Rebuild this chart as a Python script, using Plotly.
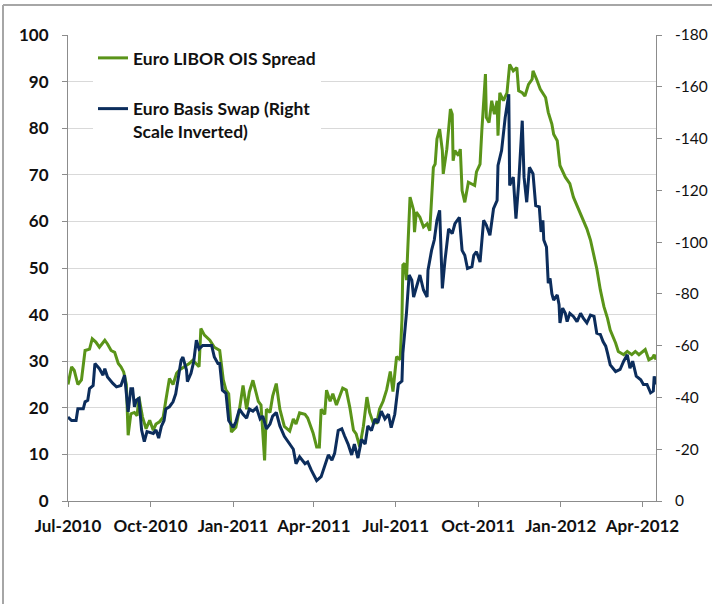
import plotly.graph_objects as go

# ---------------- data ----------------
libor_dates = [
    "2010-07-01","2010-07-05","2010-07-08","2010-07-12","2010-07-16","2010-07-20","2010-07-25","2010-07-28",
    "2010-08-01","2010-08-05","2010-08-11","2010-08-14","2010-08-18","2010-08-22","2010-08-26","2010-08-29",
    "2010-09-01","2010-09-04","2010-09-06","2010-09-09","2010-09-13","2010-09-16","2010-09-18","2010-09-22",
    "2010-09-26","2010-09-30","2010-10-04","2010-10-07","2010-10-11","2010-10-15","2010-10-18","2010-10-22",
    "2010-10-26","2010-10-30","2010-11-02","2010-11-08","2010-11-13","2010-11-17","2010-11-21","2010-11-24",
    "2010-11-26","2010-11-30","2010-12-06","2010-12-11","2010-12-17","2010-12-21","2010-12-24","2010-12-27",
    "2010-12-30","2011-01-04","2011-01-08","2011-01-12","2011-01-16","2011-01-19","2011-01-23","2011-01-29",
    "2011-02-01","2011-02-05","2011-02-07","2011-02-11","2011-02-14","2011-02-18","2011-02-22","2011-02-27",
    "2011-03-05","2011-03-09","2011-03-12","2011-03-16","2011-03-22","2011-03-25","2011-03-31","2011-04-04",
    "2011-04-07","2011-04-09","2011-04-13","2011-04-15","2011-04-19","2011-04-22","2011-04-26","2011-04-30",
    "2011-05-03","2011-05-07","2011-05-11","2011-05-15","2011-05-18","2011-05-22","2011-05-26","2011-05-30",
    "2011-06-02","2011-06-06","2011-06-10","2011-06-13","2011-06-17","2011-06-21","2011-06-25","2011-06-28",
    "2011-07-02","2011-07-06","2011-07-08","2011-07-09","2011-07-11","2011-07-13","2011-07-17","2011-07-21",
    "2011-07-22","2011-07-24","2011-07-28","2011-08-01","2011-08-05","2011-08-08","2011-08-10","2011-08-12",
    "2011-08-14","2011-08-16","2011-08-19","2011-08-22","2011-08-23","2011-08-27","2011-08-31","2011-09-02",
    "2011-09-03","2011-09-05","2011-09-09","2011-09-11","2011-09-13","2011-09-16","2011-09-20","2011-09-24",
    "2011-09-27","2011-09-29","2011-10-03","2011-10-05","2011-10-09","2011-10-10","2011-10-13","2011-10-16",
    "2011-10-19","2011-10-22","2011-10-23","2011-10-25","2011-10-29","2011-11-02","2011-11-05","2011-11-09",
    "2011-11-13","2011-11-15","2011-11-19","2011-11-22","2011-11-26","2011-11-30","2011-12-01","2011-12-05",
    "2011-12-09","2011-12-15","2011-12-18","2011-12-22","2011-12-24","2011-12-28","2011-12-31","2012-01-06",
    "2012-01-11","2012-01-15","2012-01-19","2012-01-25","2012-01-30","2012-02-03","2012-02-07","2012-02-10",
    "2012-02-14","2012-02-18","2012-02-22","2012-02-25","2012-03-02","2012-03-05","2012-03-11","2012-03-15",
    "2012-03-20","2012-03-24","2012-03-28","2012-04-01","2012-04-04","2012-04-08","2012-04-12","2012-04-14",
    "2012-04-16",
]
libor_ois = [
    25.0, 28.8, 28.0, 25.0, 26.0, 32.3, 32.6, 34.8,
    34.1, 33.0, 34.5, 33.7, 32.3, 31.9, 29.5, 28.8,
    27.7, 25.0, 14.1, 18.7, 19.0, 18.3, 22.3, 18.0,
    15.5, 17.3, 15.2, 16.5, 17.0, 18.0, 21.6, 26.3,
    25.0, 27.4, 28.1, 28.8, 29.5, 30.2, 29.5, 28.8,
    37.0, 35.6, 34.5, 33.0, 32.3, 26.0, 23.8, 23.0,
    14.8, 15.8, 19.7, 24.8, 19.7, 23.4, 25.9, 21.4,
    20.6, 8.7, 19.7, 19.0, 22.5, 25.2, 19.7, 16.0,
    15.0, 17.6, 16.5, 18.9, 18.6, 17.8, 14.6, 11.6,
    11.6, 19.7, 18.6, 23.8, 21.4, 23.0, 20.6, 22.5,
    24.2, 23.8, 20.0, 15.2, 14.4, 11.6, 16.0, 22.3,
    19.0, 16.8, 16.8, 19.7, 21.4, 23.9, 27.8, 23.5,
    31.0, 30.3, 38.9, 50.6, 51.0, 47.4, 65.2, 62.4,
    57.7, 62.0, 60.9, 58.8, 59.5, 58.0, 65.9, 71.6,
    72.3, 77.7, 79.8, 75.2, 70.2, 75.5, 84.1, 83.0,
    73.0, 75.2, 74.1, 75.5, 66.6, 64.1, 68.4, 68.0,
    67.7, 70.6, 72.3, 79.5, 91.6, 82.3, 81.2, 85.9,
    83.0, 85.9, 78.4, 87.6, 85.9, 87.6, 93.7, 92.3,
    93.0, 88.0, 87.6, 86.9, 89.4, 90.5, 92.3, 90.5,
    88.4, 86.6, 83.4, 80.9, 78.7, 77.3, 72.0, 69.5,
    68.1, 65.2, 63.4, 60.9, 58.4, 56.0, 52.7, 49.9,
    45.3, 41.7, 39.2, 36.7, 33.9, 32.1, 31.4, 32.1,
    31.4, 32.1, 31.4, 32.1, 32.5, 30.3, 30.7, 31.4,
    30.3,
]

swap_dates = [
    "2010-07-01","2010-07-05","2010-07-10","2010-07-12","2010-07-18","2010-07-20","2010-07-23","2010-07-25",
    "2010-07-29","2010-07-31","2010-08-05","2010-08-09","2010-08-11","2010-08-14","2010-08-20","2010-08-24",
    "2010-08-29","2010-09-02","2010-09-06","2010-09-09","2010-09-11","2010-09-13","2010-09-15","2010-09-18",
    "2010-09-21","2010-09-24","2010-09-27","2010-10-04","2010-10-07","2010-10-10","2010-10-13","2010-10-16",
    "2010-10-18","2010-10-22","2010-10-26","2010-10-29","2010-11-01","2010-11-04","2010-11-06","2010-11-10",
    "2010-11-11","2010-11-15","2010-11-18","2010-11-21","2010-11-24","2010-11-28","2010-12-08","2010-12-11",
    "2010-12-15","2010-12-17","2010-12-20","2010-12-24","2010-12-27","2011-01-01","2011-01-04","2011-01-08",
    "2011-01-12","2011-01-16","2011-01-19","2011-01-23","2011-01-27","2011-01-31","2011-02-03","2011-02-07",
    "2011-02-11","2011-02-14","2011-02-18","2011-02-22","2011-02-27","2011-03-05","2011-03-09","2011-03-12",
    "2011-03-16","2011-03-22","2011-03-25","2011-03-29","2011-04-04","2011-04-09","2011-04-13","2011-04-17",
    "2011-04-21","2011-04-24","2011-04-28","2011-05-02","2011-05-05","2011-05-09","2011-05-13","2011-05-16",
    "2011-05-20","2011-05-24","2011-05-28","2011-05-31","2011-06-04","2011-06-08","2011-06-11","2011-06-15",
    "2011-06-19","2011-06-23","2011-06-26","2011-06-30","2011-07-04","2011-07-08","2011-07-09","2011-07-13",
    "2011-07-16","2011-07-19","2011-07-21","2011-07-24","2011-07-28","2011-08-01","2011-08-05","2011-08-06",
    "2011-08-10","2011-08-13","2011-08-16","2011-08-19","2011-08-22","2011-08-25","2011-08-29","2011-09-02",
    "2011-09-05","2011-09-10","2011-09-13","2011-09-16","2011-09-19","2011-09-24","2011-09-26","2011-09-29",
    "2011-10-03","2011-10-07","2011-10-10","2011-10-14","2011-10-18","2011-10-22","2011-10-23","2011-10-27",
    "2011-10-31","2011-11-04","2011-11-05","2011-11-09","2011-11-12","2011-11-15","2011-11-19","2011-11-21",
    "2011-11-24","2011-11-27","2011-12-01","2011-12-04","2011-12-08","2011-12-10","2011-12-12","2011-12-13",
    "2011-12-16","2011-12-18","2011-12-20","2011-12-22","2011-12-24","2011-12-28","2011-12-30","2011-12-31",
    "2012-01-03","2012-01-06","2012-01-08","2012-01-11","2012-01-15","2012-01-19","2012-01-23","2012-01-26",
    "2012-01-30","2012-02-03","2012-02-07","2012-02-10","2012-02-14","2012-02-17","2012-02-20","2012-02-22",
    "2012-02-25","2012-03-02","2012-03-07","2012-03-11","2012-03-15","2012-03-18","2012-03-21","2012-03-25",
    "2012-03-30","2012-04-02","2012-04-06","2012-04-10","2012-04-13","2012-04-14","2012-04-16",
]
basis_swap = [
    -32.4, -31.1, -31.1, -35.6, -35.6, -38.3, -38.9, -43.4,
    -44.6, -53.1, -51.1, -48.6, -51.1, -47.9, -45.4, -44.1,
    -44.6, -48.6, -34.4, -43.4, -43.4, -36.4, -38.9, -39.6,
    -27.4, -22.9, -26.8, -26.1, -27.4, -24.3, -28.8, -31.1,
    -35.6, -36.4, -38.3, -41.4, -47.9, -54.4, -55.6, -50.6,
    -46.1, -49.3, -53.8, -62.1, -58.7, -60.1, -60.1, -55.6,
    -53.1, -53.1, -42.8, -41.6, -31.1, -28.4, -30.6, -35.5,
    -33.5, -32.0, -35.5, -34.7, -36.0, -31.7, -32.8, -27.9,
    -29.7, -32.8, -34.2, -29.0, -25.0, -22.0, -20.0, -14.4,
    -17.1, -14.4, -15.1, -11.9, -7.9, -9.4, -13.9, -17.8,
    -15.8, -18.4, -27.2, -27.9, -25.2, -22.0, -17.8, -22.0,
    -16.6, -23.8, -22.0, -29.0, -27.2, -31.7, -30.2, -34.7,
    -31.7, -33.5, -28.3, -33.5, -45.2, -46.3, -57.1, -72.5,
    -87.3, -85.3, -78.8, -82.8, -87.3, -81.5, -78.8, -89.1,
    -96.8, -100.8, -108.4, -112.3, -82.1, -93.1, -105.1, -103.3,
    -107.1, -109.6, -96.8, -94.9, -89.8, -90.5, -94.9, -96.3,
    -92.3, -108.4, -106.6, -102.6, -112.9, -116.1, -129.6, -135.4,
    -148.1, -157.1, -121.9, -125.1, -109.1, -122.6, -146.9, -125.1,
    -115.4, -128.9, -126.4, -114.1, -113.6, -103.9, -108.4, -100.8,
    -98.1, -84.1, -86.0, -80.1, -77.6, -79.6, -75.8, -68.8,
    -74.5, -72.5, -69.3, -72.5, -71.3, -69.3, -72.5, -70.6,
    -68.8, -71.8, -71.3, -64.8, -64.3, -61.6, -59.8, -57.1,
    -52.6, -50.0, -50.8, -54.0, -56.5, -51.3, -54.0, -48.2,
    -46.8, -45.0, -45.0, -41.8, -42.5, -48.2, -45.0,
]

series_names = ["Euro LIBOR OIS Spread", "Euro Basis Swap (Right<br>Scale Inverted)"]
x_range = ["2010-07-01", "2012-04-16"]
right_tick_vals = [0, -20, -40, -60, -80, -100, -120, -140, -160, -180]
right_tick_text = ["0", "-20", "-40", "-60", "-80", "-100", "-120", "-140", "-160", "-180"]

# ---------------- style ----------------
GREEN = "#5A9419"
NAVY = "#0C2D5C"
GRID = "#D9D9D9"
AXIS = "#8C8C8C"
FONT = "Lato, 'Open Sans', sans-serif"

W, H = 712, 604
ML, MR, MT, MB = 68, 56, 35, 103
PW, PH = W - ML - MR, H - MT - MB


def px_x(p):
    return (p - ML) / PW


def px_y(p):
    return (H - MB - p) / PH


fig = go.Figure()
fig.add_trace(go.Scatter(
    x=libor_dates, y=libor_ois, name=series_names[0], mode="lines",
    line=dict(color=GREEN, width=3), legendgroup="a", yaxis="y",
))
fig.add_trace(go.Scatter(
    x=swap_dates, y=basis_swap, name=series_names[1], mode="lines",
    line=dict(color=NAVY, width=3), legendgroup="b", yaxis="y2",
))

fig.update_layout(
    width=W, height=H,
    margin=dict(l=ML, r=MR, t=MT, b=MB, autoexpand=False),
    paper_bgcolor="white", plot_bgcolor="white",
    font=dict(family=FONT, color="#111111"),
    showlegend=True,
    legend=dict(
        x=px_x(93), y=px_y(40), xanchor="left", yanchor="top",
        bgcolor="white", borderwidth=0,
        font=dict(family=FONT, size=17.5, color="#111111", weight="bold"),
        traceorder="grouped", tracegroupgap=25, valign="top",
        itemwidth=30,
    ),
    xaxis=dict(
        type="date", range=x_range, automargin=False,
        tick0="2010-07-01", dtick="M3", tickformat="%b-%Y",
        showgrid=False, showline=True, linecolor=AXIS, linewidth=1,
        ticks="outside", ticklen=5, tickcolor=AXIS,
        tickfont=dict(family=FONT, size=17, color="#111111", weight="bold"),
        ticklabelstandoff=5,
        zeroline=False,
    ),
    yaxis=dict(
        range=[0, 100], dtick=10, tick0=0, automargin=False,
        showgrid=True, gridcolor=GRID, gridwidth=1,
        showline=True, linecolor=AXIS, linewidth=1,
        ticks="outside", ticklen=5, tickcolor=AXIS,
        tickfont=dict(family=FONT, size=17, color="#111111", weight="bold"),
        ticklabelstandoff=10,
        zeroline=False,
    ),
    yaxis2=dict(
        overlaying="y", side="right", automargin=False,
        range=[0, -180], tickmode="array",
        tickvals=right_tick_vals, ticktext=right_tick_text,
        showgrid=False, showline=True, linecolor=AXIS, linewidth=1,
        ticks="outside", ticklen=5, tickcolor=AXIS,
        tickfont=dict(family=FONT, size=15.5, color="#111111"),
        ticklabelstandoff=10,
        zeroline=False,
    ),
)

# frame of the original chart object (top and left borders)
fig.add_shape(type="line", xref="paper", yref="paper",
              x0=px_x(3), x1=px_x(W + 5), y0=px_y(5), y1=px_y(5),
              line=dict(color="#A6A6A6", width=2), layer="above")
fig.add_shape(type="line", xref="paper", yref="paper",
              x0=px_x(3), x1=px_x(3), y0=px_y(5), y1=px_y(H + 5),
              line=dict(color="#A6A6A6", width=2), layer="above")

fig.write_html("out.html")
